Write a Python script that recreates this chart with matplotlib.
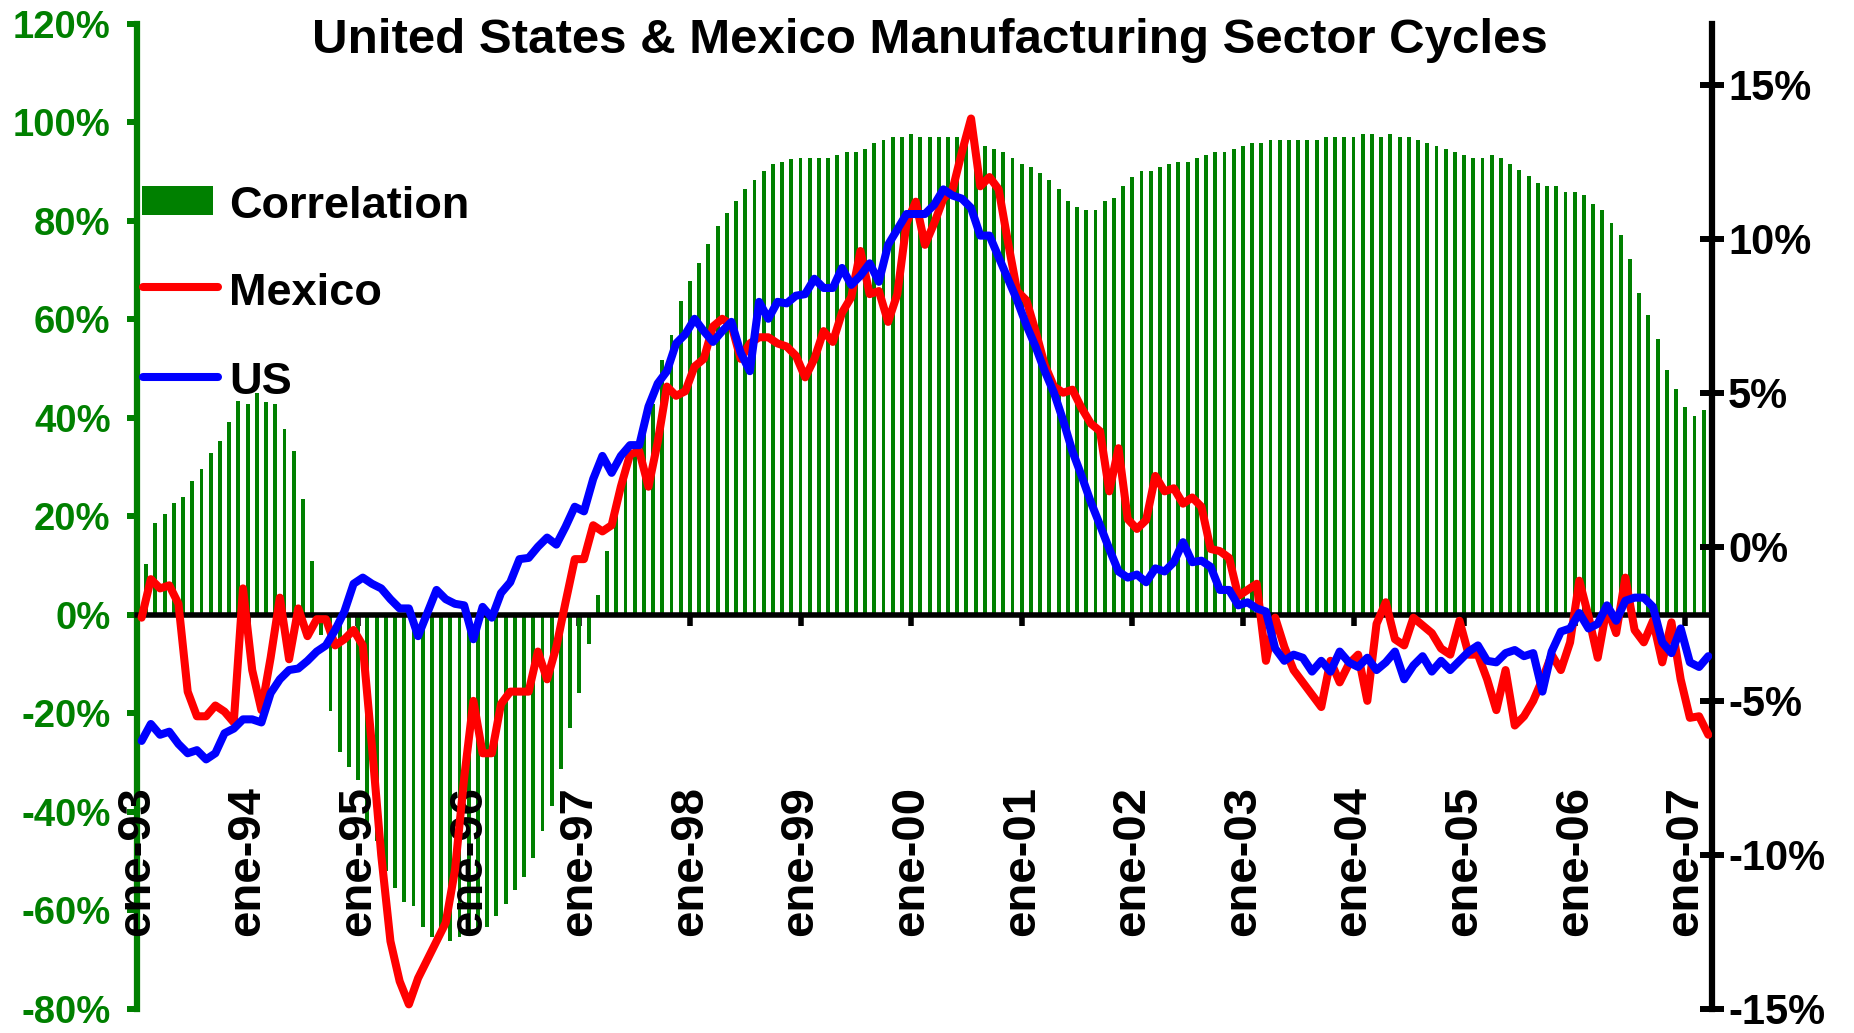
import matplotlib
matplotlib.use("Agg")
import matplotlib.pyplot as plt
import numpy as np
from matplotlib.patches import Rectangle
from matplotlib.lines import Line2D

plt.rcParams['font.family'] = ['Liberation Sans', 'DejaVu Sans']
plt.rcParams['font.weight'] = 'bold'

title = "United States & Mexico Manufacturing Sector Cycles"
x_labels = ["ene-93", "ene-94", "ene-95", "ene-96", "ene-97", "ene-98", "ene-99",
            "ene-00", "ene-01", "ene-02", "ene-03", "ene-04", "ene-05", "ene-06", "ene-07"]
left_ticks = [-80, -60, -40, -20, 0, 20, 40, 60, 80, 100, 120]
right_ticks = [-15, -10, -5, 0, 5, 10, 15]

# Monthly correlation (%), Jan-1993 .. Mar-2007
correlation = [
    3, 10.4, 18.6, 20.4, 22.6, 24.0, 27.1, 29.6, 32.8, 35.3, 39.1, 43.4,
    42.8, 45.1, 43.3, 42.8, 37.7, 33.3, 23.5, 11.0, -4.0, -19.6, -27.8, -30.8,
    -33.5, -42.0, -46.0, -52.0, -55.5, -58.3, -59.0, -63.3, -65.4, -65.4, -66.1, -65.4,
    -64.7, -64.0, -63.3, -61.1, -58.7, -55.8, -53.3, -49.4, -43.8, -38.8, -31.3, -23.0,
    -15.8, -5.9, 4.1, 12.9, 22.0, 29.7, 33.7, 39.8, 42.8, 51.7, 56.7, 63.6,
    67.8, 71.4, 75.2, 78.9, 81.6, 84.0, 86.5, 88.3, 90.1, 91.5, 92.0, 92.6,
    92.7, 92.7, 92.7, 92.7, 93.3, 93.9, 93.9, 94.5, 95.8, 96.4, 97.0, 97.0,
    97.6, 97.0, 97.0, 97.0, 97.0, 97.0, 96.5, 95.5, 95.2, 94.6, 93.9, 92.7,
    91.5, 90.9, 89.6, 88.3, 86.5, 84.0, 82.7, 82.2, 82.2, 84.0, 84.6, 87.1,
    88.9, 90.1, 90.1, 90.9, 91.5, 92.0, 92.0, 92.7, 93.3, 93.9, 93.9, 94.6,
    95.2, 95.8, 95.8, 96.4, 96.4, 96.4, 96.4, 96.4, 96.4, 97.0, 97.0, 97.0,
    97.0, 97.6, 97.6, 97.0, 97.6, 97.0, 97.0, 96.4, 95.8, 95.2, 94.6, 93.9,
    93.3, 92.7, 92.7, 93.3, 92.7, 91.5, 90.2, 89.0, 87.7, 87.1, 87.1, 85.8,
    85.8, 85.2, 83.4, 82.1, 79.6, 77.1, 72.2, 65.3, 60.9, 56.0, 49.7, 45.9,
    42.2, 40.3, 41.6,
]

# Mexico manufacturing cycle (%), right axis
mexico = [
    -2.3, -1.05, -1.35, -1.25, -1.85, -4.7, -5.5, -5.5, -5.15, -5.35, -5.7, -1.35,
    -4.0, -5.3, -3.6, -1.65, -3.65, -2.0, -2.9, -2.35, -2.35, -3.2, -3.0, -2.7,
    -3.2, -6.5, -10.0, -12.8, -14.1, -14.85, -14.0, -13.4, -12.8, -12.2, -10.5, -7.5,
    -5.0, -6.7, -6.7, -5.1, -4.7, -4.7, -4.7, -3.4, -4.3, -3.25, -1.8, -0.4,
    -0.4, 0.7, 0.5, 0.7, 1.95, 3.0, 3.1, 1.95, 3.4, 5.2, 4.9, 5.05,
    5.85, 6.1, 7.15, 7.4, 7.2, 6.1, 6.6, 6.8, 6.8, 6.6, 6.5, 6.2,
    5.5, 6.1, 7.0, 6.65, 7.6, 8.1, 9.6, 8.2, 8.3, 7.3, 8.2, 10.5,
    11.2, 9.8, 10.5, 11.3, 11.6, 12.8, 13.9, 11.7, 12.0, 11.6, 9.9, 8.3,
    8.0, 7.0, 5.9, 5.2, 5.0, 5.1, 4.5, 4.0, 3.75, 1.8, 3.2, 0.9,
    0.58, 0.87, 2.3, 1.8, 1.9, 1.4, 1.6, 1.3, -0.07, -0.14, -0.36, -1.6,
    -1.4, -1.2, -3.7, -2.3, -3.25, -4.0, -4.4, -4.8, -5.2, -3.7, -4.4, -3.8,
    -3.5, -5.0, -2.5, -1.8, -3.0, -3.2, -2.3, -2.55, -2.8, -3.3, -3.5, -2.4,
    -3.5, -3.5, -4.3, -5.3, -4.0, -5.8, -5.5, -5.0, -4.3, -3.5, -4.0, -3.1,
    -1.1, -2.25, -3.6, -1.95, -2.8, -1.0, -2.7, -3.1, -2.4, -3.75, -2.45, -4.3,
    -5.55, -5.5, -6.1,
]

# US manufacturing cycle (%), right axis
us = [
    -6.3, -5.75, -6.1, -6.0, -6.4, -6.7, -6.6, -6.9, -6.7, -6.05, -5.9, -5.6,
    -5.6, -5.7, -4.75, -4.3, -4.0, -3.95, -3.7, -3.4, -3.2, -2.7, -2.1, -1.2,
    -1.0, -1.2, -1.35, -1.7, -2.0, -2.0, -2.9, -2.15, -1.4, -1.7, -1.85, -1.9,
    -3.0, -1.95, -2.3, -1.5, -1.15, -0.4, -0.36, 0.0, 0.3, 0.07, 0.65, 1.3,
    1.15, 2.2, 2.95, 2.4, 2.95, 3.3, 3.3, 4.55, 5.3, 5.7, 6.6, 6.9,
    7.4, 7.0, 6.65, 7.0, 7.3, 6.3, 5.7, 7.95, 7.4, 7.95, 7.9, 8.15,
    8.2, 8.7, 8.4, 8.4, 9.05, 8.5, 8.8, 9.2, 8.6, 9.8, 10.3, 10.8,
    10.8, 10.8, 11.1, 11.6, 11.4, 11.3, 11.0, 10.1, 10.1, 9.4, 8.7, 8.0,
    7.2, 6.5, 5.7, 5.0, 4.1, 3.1, 2.3, 1.45, 0.7, -0.07, -0.8, -1.0,
    -0.9, -1.15, -0.7, -0.8, -0.5, 0.15, -0.5, -0.45, -0.65, -1.4, -1.4, -1.9,
    -1.8, -2.0, -2.1, -3.3, -3.7, -3.5, -3.6, -4.05, -3.7, -4.05, -3.4, -3.75,
    -3.9, -3.6, -4.0, -3.75, -3.4, -4.3, -3.85, -3.55, -4.05, -3.7, -4.0, -3.7,
    -3.4, -3.2, -3.7, -3.75, -3.45, -3.35, -3.55, -3.45, -4.7, -3.4, -2.75, -2.65,
    -2.15, -2.65, -2.5, -1.9, -2.4, -1.75, -1.65, -1.65, -1.95, -3.1, -3.45, -2.65,
    -3.75, -3.9, -3.55,
]

GREEN = '#008000'
W, H = 1854, 1033
fig = plt.figure(figsize=(W / 100, H / 100), dpi=100)
fig.patch.set_facecolor('white')

left, right = 137 / W, 1712 / W
bottom, top = 1 - 1009 / H, 1 - 23.6 / H
ax = fig.add_axes([left, bottom, right - left, top - bottom])
ax2 = ax.twinx()

months = np.arange(len(correlation))
ax.bar(months, correlation, width=0.42, color=GREEN, zorder=2, linewidth=0)
ax.set_xlim(0, 170.9)
ax.set_ylim(-80, 120)
ax.set_yticks(left_ticks)
ax.set_yticklabels([f"{t}%" for t in left_ticks])
ax.tick_params(axis='y', direction='out', length=7, width=4.3, color=GREEN,
               labelcolor=GREEN, labelsize=27.5, pad=12)
for s in ['top', 'right']:
    ax.spines[s].set_visible(False)
ax.spines['left'].set_color(GREEN)
ax.spines['left'].set_linewidth(4.5)
ax.spines['bottom'].set_position(('data', 0))
ax.spines['bottom'].set_color('black')
ax.spines['bottom'].set_linewidth(4)
ax.spines['bottom'].set_zorder(3)
ax.set_xticks(np.arange(0, len(x_labels) * 12, 12))
ax.tick_params(axis='x', direction='out', length=8, width=4, color='black',
               labelbottom=False)
for i, lab in enumerate(x_labels):
    ax.text(i * 12, -34.8, lab, rotation=90, ha='center', va='top',
            fontsize=34, fontweight='bold', color='black')

line_x = np.arange(len(mexico)) + 0.5
ax2.plot(line_x, mexico, color='#FF0000', lw=5.8, solid_joinstyle='round',
         solid_capstyle='round', zorder=4)
ax2.plot(line_x, us, color='#0000FF', lw=5.8, solid_joinstyle='round',
         solid_capstyle='round', zorder=5)
ax2.set_ylim(-15, 16.98)
ax2.set_yticks(right_ticks)
ax2.set_yticklabels([f"{t}%" for t in right_ticks])
ax2.tick_params(axis='y', direction='inout', length=17, width=4.3, color='black',
                labelcolor='black', labelsize=30, pad=3)
for s in ['top', 'left', 'bottom']:
    ax2.spines[s].set_visible(False)
ax2.spines['right'].set_color('black')
ax2.spines['right'].set_linewidth(4.5)

fig.text(929.6 / W, 1 - 53.2 / H, title, ha='center', va='baseline',
         fontsize=35.5, fontweight='bold', color='black')

# Legend (drawn manually)
fig.add_artist(Rectangle((142 / W, 1 - 215 / H), (213 - 142) / W, (215 - 186) / H,
                         transform=fig.transFigure, facecolor=GREEN, edgecolor='none'))
fig.add_artist(Line2D([143 / W, 218 / W], [1 - 287 / H] * 2, transform=fig.transFigure,
                      color='#FF0000', lw=5.8, solid_capstyle='round'))
fig.add_artist(Line2D([143 / W, 218 / W], [1 - 377 / H] * 2, transform=fig.transFigure,
                      color='#0000FF', lw=5.8, solid_capstyle='round'))
for txt, yb in [("Correlation", 217.6), ("Mexico", 305), ("US", 394)]:
    fig.text(229 / W, 1 - yb / H, txt, ha='left', va='baseline', fontsize=32.5,
             fontweight='bold', color='black')

fig.savefig('out.png', dpi=100, facecolor='white')
